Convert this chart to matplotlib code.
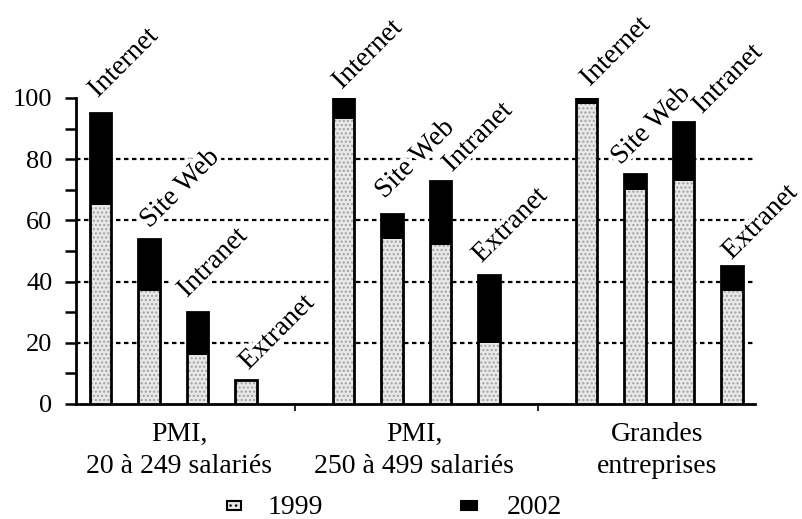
import matplotlib.pyplot as plt
import matplotlib.patheffects as pe
from matplotlib.patches import Rectangle
import numpy as np

plt.rcParams['font.family'] = ['Liberation Serif', 'DejaVu Serif']

# Data (% of firms)
groups = ["PMI,\n20 à 249 salariés", "PMI,\n250 à 499 salariés",
          "Grandes\nentreprises"]
techs = ["Internet", "Site Web", "Intranet", "Extranet"]
v1999 = [[65, 37, 16, 8], [93, 54, 52, 20], [98, 70, 73, 37]]
v2002 = [[95, 54, 30, 8], [100, 62, 73, 42], [100, 75, 92, 45]]

# hand placement of the rotated labels (pixel offsets from bar top-left)
lab_off = [[(8, 15), (11, 10), (0, 14), (13, 9)],
           [(9, 8), (3, 15), (22, 8), (3, 12)],
           [(14, 11), (-4, 9), (29, 8), (10, 6)]]

W, H = 803, 519
fig = plt.figure(figsize=(W / 100, H / 100), dpi=100)
ax = fig.add_axes([76 / W, 1 - 404 / H, (755 - 76) / W, (404 - 98) / H])

width = 0.44
halo = [pe.withStroke(linewidth=6, foreground='white')]
for g in range(3):
    x = g * 5 + np.arange(4)
    a = np.array(v1999[g])
    b = np.array(v2002[g])
    # 1999 part: light stippled grey
    ax.bar(x, a, width=width, color='#e8e8e8', edgecolor='#a0a0a0',
           hatch='....', linewidth=0, zorder=3)
    # 2002 increment: black
    ax.bar(x, b - a, bottom=a, width=width, color='black', linewidth=0,
           zorder=3)
    # outline
    ax.bar(x, np.maximum(a, b), width=width, fill=False, edgecolor='black',
           linewidth=2, zorder=4)
    for i in range(4):
        ax.annotate(techs[i], xy=(x[i] - width / 2, max(a[i], b[i])),
                    xytext=lab_off[g][i], textcoords='offset pixels',
                    rotation=45, rotation_mode='anchor', ha='left',
                    va='baseline', fontsize=20, zorder=2, path_effects=halo,
                    annotation_clip=False)

# dotted grid lines
for yv in [20, 40, 60, 80]:
    ax.axhline(yv, color='black', lw=1.6, dashes=(2, 1.6), zorder=1)

ax.set_xlim(-0.5, 13.47)
ax.set_ylim(0, 100)
for s in ['top', 'right']:
    ax.spines[s].set_visible(False)
ax.spines['left'].set_linewidth(2)
ax.spines['bottom'].set_linewidth(2)

ax.set_yticks([0, 20, 40, 60, 80, 100])
ax.set_yticks([10, 30, 50, 70, 90], minor=True)
ax.tick_params(axis='y', which='both', direction='out', length=8, width=1.8,
               labelsize=19, pad=9)
ax.set_xticks([4, 9])
ax.set_xticklabels([])
ax.tick_params(axis='x', direction='out', length=5, width=1.2)

# category labels under each group, one line at a time
cx = [179, 414, 657]
for g in range(3):
    for k, line in enumerate(groups[g].split("\n")):
        fig.text(cx[g] / W, 1 - (441 + 32 * k) / H, line, ha='center',
                 va='baseline', fontsize=20)

# legend
fig.patches.append(Rectangle((227 / W, 1 - 510 / H), 14 / W, 9 / H,
                             transform=fig.transFigure, facecolor='#e8e8e8',
                             edgecolor='black', lw=1.5, hatch='...'))
fig.text(268 / W, 1 - 514 / H, "1999", fontsize=20, va='baseline')
fig.patches.append(Rectangle((461 / W, 1 - 510 / H), 16 / W, 9 / H,
                             transform=fig.transFigure, facecolor='black',
                             edgecolor='black', lw=1.5))
fig.text(507 / W, 1 - 514 / H, "2002", fontsize=20, va='baseline')

fig.savefig("out.png", dpi=100)
